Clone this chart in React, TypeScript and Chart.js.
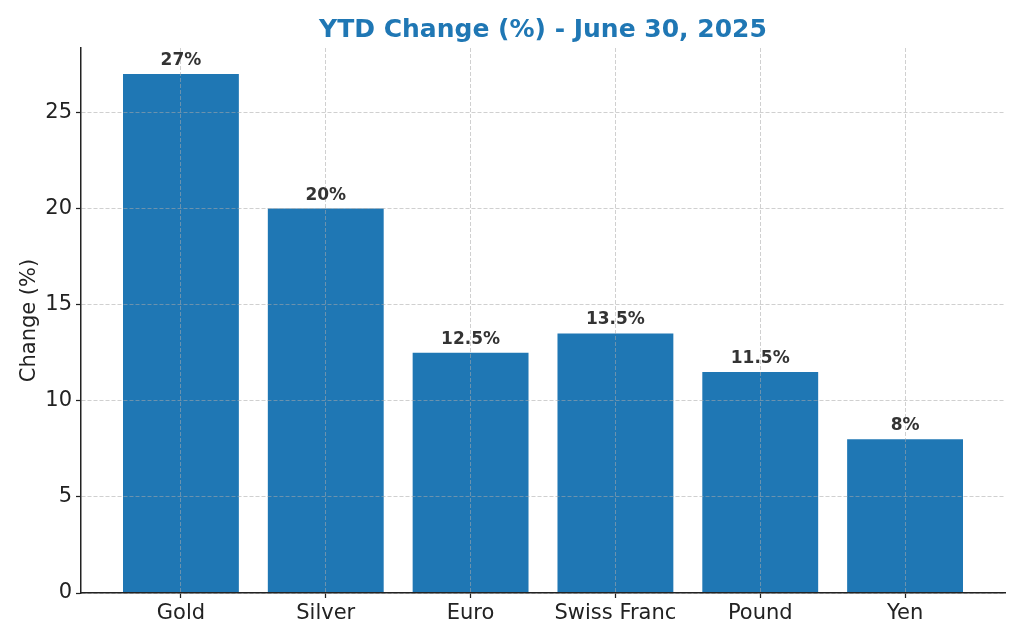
import React, { useEffect, useRef } from "react";
import { Chart, registerables } from "chart.js";

Chart.register(...registerables);

const categories = ["Gold", "Silver", "Euro", "Swiss Franc", "Pound", "Yen"];
const changes = [27, 20, 12.5, 13.5, 11.5, 8];
const valueLabels = ["27%", "20%", "12.5%", "13.5%", "11.5%", "8%"];
const yTicks = [0, 5, 10, 15, 20, 25];
const titleText = "YTD Change (%) - June 30, 2025";
const yAxisTitle = "Change (%)";

const FONT = "'DejaVu Sans', sans-serif";

export default function App() {
  const ref = useRef<HTMLCanvasElement | null>(null);

  useEffect(() => {
    document.body.style.margin = "0";
    const canvas = ref.current;
    if (!canvas) return;

    const overlay = {
      id: "overlay",
      afterDraw(chart: any) {
        const ctx = chart.ctx;
        const area = chart.chartArea;
        ctx.save();
        ctx.font = `bold 25px ${FONT}`;
        ctx.fillStyle = "#1f77b4";
        ctx.textAlign = "center";
        ctx.textBaseline = "middle";
        ctx.fillText(titleText, (area.left + area.right) / 2, 30);

        const meta = chart.getDatasetMeta(0);
        ctx.font = `bold 17px ${FONT}`;
        ctx.fillStyle = "#333333";
        ctx.textAlign = "center";
        ctx.textBaseline = "alphabetic";
        meta.data.forEach((bar: any, i: number) => {
          ctx.fillText(valueLabels[i], bar.x, bar.y - 9);
        });
        ctx.restore();
      },
    };

    const gridOpts = {
      color: "rgba(170,170,170,0.55)",
      lineWidth: 1,
      tickLength: 5,
      tickColor: "#222222",
      tickBorderDash: [],
      tickWidth: 1.25,
      z: 1,
    };
    const borderOpts = { display: true, color: "#222222", width: 1.5, dash: [4, 2], z: 2 };

    const chart = new Chart(canvas, {
      type: "bar",
      data: {
        datasets: [
          {
            data: changes.map((v, i) => ({ x: i, y: v })),
            backgroundColor: "#1f77b4",
            borderWidth: 0,
            barPercentage: 1,
            categoryPercentage: 0.8,
          },
        ],
      },
      options: {
        animation: false,
        responsive: false,
        devicePixelRatio: 1,
        layout: { padding: { top: 48, right: 19, left: 0, bottom: 0 } },
        plugins: {
          legend: { display: false },
          tooltip: { enabled: false },
          title: { display: false },
        },
        scales: {
          x: {
            type: "linear",
            min: -0.69,
            max: 5.69,
            offset: false,
            z: 1,
            afterBuildTicks: (scale: any) => {
              scale.ticks = categories.map((_, i) => ({ value: i }));
            },
            afterFit: (scale: any) => {
              scale.height = 47;
            },
            ticks: {
              autoSkip: false,
              maxRotation: 0,
              padding: 3,
              color: "#222222",
              font: { family: FONT, size: 21 },
              callback: (v: any) => categories[Math.round(Number(v))] ?? "",
            },
            grid: { ...gridOpts, offset: false },
            border: borderOpts,
          },
          y: {
            type: "linear",
            min: 0,
            max: 28.35,
            z: 1,
            afterBuildTicks: (scale: any) => {
              scale.ticks = yTicks.map((v) => ({ value: v }));
            },
            afterFit: (scale: any) => {
              scale.width = 81;
            },
            ticks: {
              padding: 4,
              color: "#222222",
              font: { family: FONT, size: 21 },
              callback: (v: any) => String(v),
            },
            grid: gridOpts,
            border: borderOpts,
            title: {
              display: true,
              text: yAxisTitle,
              color: "#222222",
              font: { family: FONT, size: 21 },
              padding: { top: 17, bottom: 0 },
            },
          },
        },
      },
      plugins: [overlay],
    } as any);

    return () => chart.destroy();
  }, []);

  return (
    <div style={{ width: 1024, height: 640 }}>
      <canvas ref={ref} width={1024} height={640} style={{ display: "block" }} />
    </div>
  );
}
